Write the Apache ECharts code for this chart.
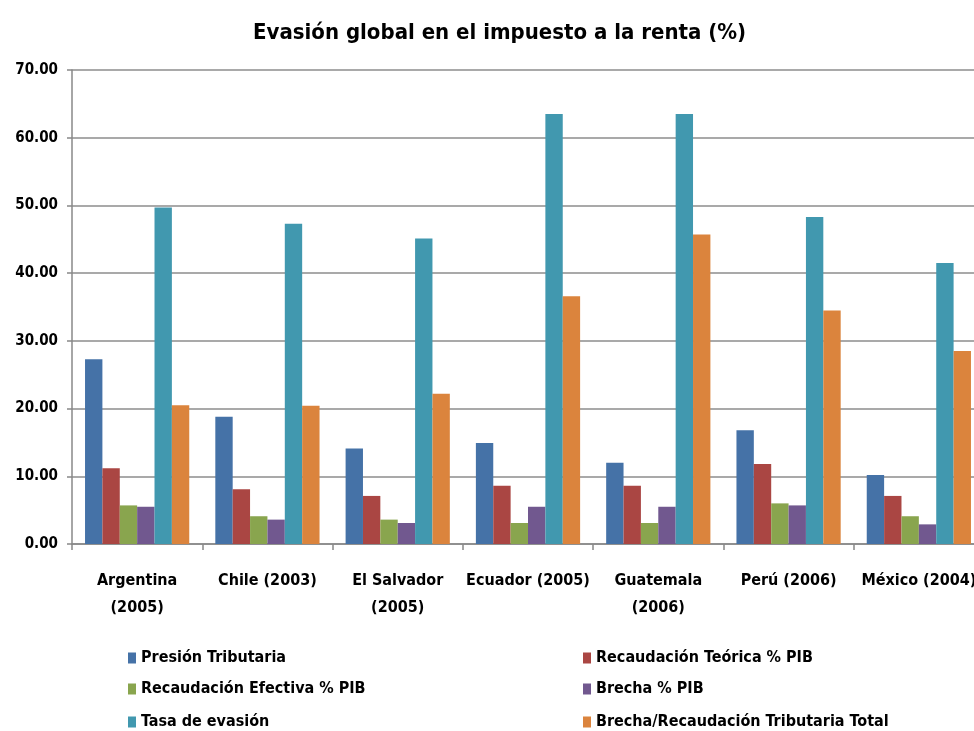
<!DOCTYPE html>
<html>
<head>
<meta charset="utf-8">
<script src="https://cdn.jsdelivr.net/npm/echarts@6/dist/echarts.min.js"></script>
<style>html,body{margin:0;padding:0;background:#fff}#c{width:974px;height:731px}</style>
</head>
<body>
<div id="c"></div>
<script>
const categories = ['Argentina\n(2005)', 'Chile (2003)', 'El Salvador\n(2005)', 'Ecuador (2005)', 'Guatemala\n(2006)', 'Perú (2006)', 'México (2004)'];
const seriesNames = ['Presión Tributaria', 'Recaudación Teórica % PIB', 'Recaudación Efectiva % PIB', 'Brecha % PIB', 'Tasa de evasión', 'Brecha/Recaudación Tributaria Total'];
const presion = [27.3, 18.8, 14.1, 14.9, 12.0, 16.8, 10.2];
const teorica = [11.2, 8.1, 7.1, 8.6, 8.6, 11.8, 7.1];
const efectiva = [5.7, 4.1, 3.6, 3.1, 3.1, 6.0, 4.1];
const brecha = [5.5, 3.6, 3.1, 5.5, 5.5, 5.7, 2.9];
const tasa = [49.7, 47.3, 45.1, 63.5, 63.5, 48.3, 41.5];
const brechaRec = [20.5, 20.4, 22.2, 36.6, 45.7, 34.5, 28.5];
const yTicks = [0, 10, 20, 30, 40, 50, 60, 70];
const colors = ['#4572A7', '#AA4643', '#89A54E', '#71588F', '#4198AF', '#DB843D'];

const FONT = '"DejaVu Sans Condensed", "Liberation Sans", Arial, sans-serif';
const values = [presion, teorica, efectiva, brecha, tasa, brechaRec];
const legendPos = [[128, 650], [583, 650], [128, 681], [583, 681], [128, 714], [583, 714]];

const chart = echarts.init(document.getElementById('c'), null, {renderer: 'canvas'});
chart.setOption({
  animation: false,
  color: colors,
  title: {
    text: 'Evasión global en el impuesto a la renta (%)',
    left: 248,
    top: 17,
    textStyle: {fontFamily: FONT, fontWeight: 'bold', fontSize: 22, color: '#000'}
  },
  legend: seriesNames.map((n, i) => ({
    data: [n],
    left: legendPos[i][0], top: legendPos[i][1], padding: 0,
    itemWidth: 8, itemHeight: 11, itemGap: 5, icon: 'rect',
    textStyle: {fontFamily: FONT, fontWeight: 'bold', fontSize: 16, color: '#000'}
  })),
  grid: {left: 72, width: 912, top: 70, bottom: 187, containLabel: false, outerBoundsMode: 'none'},
  xAxis: {
    type: 'category',
    data: categories,
    axisLine: {lineStyle: {color: '#888', width: 1.5}},
    axisTick: {show: true, length: 6, lineStyle: {color: '#888', width: 1.5}},
    axisLabel: {
      fontFamily: FONT, fontWeight: 'bold', fontSize: 16, color: '#000',
      margin: 23, lineHeight: 27, interval: 0
    }
  },
  yAxis: {
    type: 'value',
    min: yTicks[0], max: yTicks[yTicks.length - 1], interval: yTicks[1] - yTicks[0],
    axisLine: {show: true, lineStyle: {color: '#888', width: 1.5}},
    axisTick: {show: true, length: 5, lineStyle: {color: '#888', width: 1.5}},
    splitLine: {lineStyle: {color: '#8c8c8c', width: 1.5}},
    axisLabel: {
      fontFamily: FONT, fontWeight: 'bold', fontSize: 15, color: '#000', margin: 14,
      formatter: v => v.toFixed(2)
    }
  },
  series: seriesNames.map((n, i) => ({
    name: n,
    type: 'bar',
    data: values[i],
    barGap: '0%',
    barCategoryGap: '20%',
    itemStyle: {color: colors[i]}
  }))
});
</script>
</body>
</html>
